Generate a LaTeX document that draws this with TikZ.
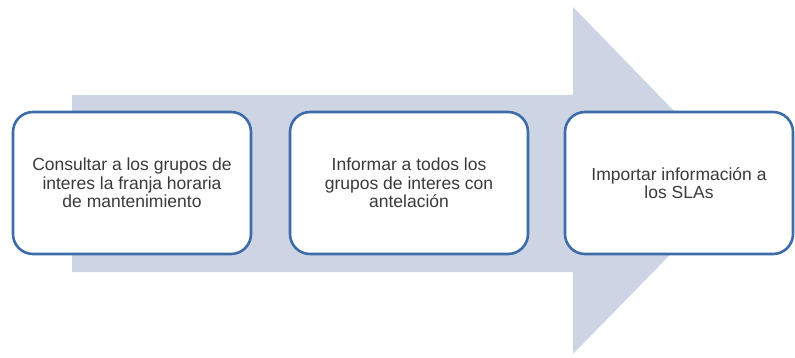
\documentclass[tikz,border=0pt]{standalone}
\usepackage{fontspec}
\setmainfont{Liberation Sans}
\usepackage{tikz}
\usetikzlibrary{positioning}

\definecolor{arrowfill}{HTML}{CDD5E4}
\definecolor{boxline}{HTML}{3E6CA8}
\definecolor{boxtext}{HTML}{3A3A3A}

\begin{document}
\begin{tikzpicture}[x=1pt,y=-1pt,
		stepbox/.style={draw=boxline, line width=2.6pt, fill=white, rounded corners=20pt, minimum width=238pt, minimum height=142pt, align=center, text=boxtext, font=\fontsize{17.5}{18.5}\selectfont, inner sep=0pt}]
		\useasboundingbox (0,0) rectangle (795,358);

		% big background arrow
		\fill [arrowfill] (72,95) -- (573,95) -- (573,7) -- (742,181) -- (573,354) -- (573,272) -- (72,272) -- cycle;

		\node (consult) at (132,183) [stepbox] {Consultar a los grupos de\\interes la franja horaria\\de mantenimiento};
		\node (inform) at (409,183) [stepbox] {Informar a todos los\\grupos de interes con\\antelación};
		\node (import) at (679,183) [stepbox, minimum width=228pt] {Importar información a\\los SLAs};
	\end{tikzpicture}
\end{document}
